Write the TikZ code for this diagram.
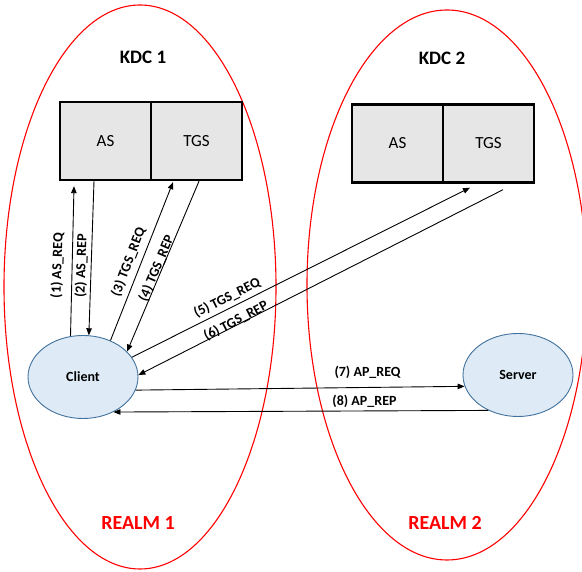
\documentclass[tikz,border=0pt]{standalone}
\usepackage{fontspec}
\setmainfont{Carlito}
\usetikzlibrary{arrows.meta,shapes.geometric}
\definecolor{realmred}{RGB}{255,0,0}
\definecolor{boxgray}{RGB}{230,230,230}
\definecolor{hostfill}{RGB}{222,235,247}
\definecolor{hostline}{RGB}{65,113,156}
\tikzset{
	kdcbox/.style={draw, line width=2.4pt, fill=boxgray, minimum width=91pt, minimum height=78pt, font=\fontsize{17}{20}\selectfont},
	host/.style={ellipse, draw=hostline, line width=0.9pt, fill=hostfill, minimum width=110pt, minimum height=83pt, font=\bfseries\fontsize{14}{16}\selectfont},
	msg/.style={-{Triangle[length=7pt,width=5.5pt]}, line width=0.9pt},
	lbl/.style={font=\bfseries\fontsize{14}{16}\selectfont, inner sep=1pt},
	realm/.style={draw=realmred, line width=1.1pt},
	title/.style={font=\bfseries\fontsize{19}{22}\selectfont}
}
\begin{document}
\begin{tikzpicture}[x=1pt,y=1pt]
	
	\useasboundingbox (0,0) rectangle (582,572);
	\draw[realm] (140,285) ellipse [x radius=136pt, y radius=282pt];
	\draw[realm] (447,287) ellipse [x radius=140pt, y radius=275pt];
	\node[title] (kdc1) at (143,515) {KDC 1};
	\node[title] (kdc2) at (442,514) {KDC 2};
	\node[kdcbox] (as1) at (105.5,431) {AS};
	\node[kdcbox] (tgs1) at (196.5,431) {TGS};
	\node[kdcbox] (as2) at (397.5,428.5) {AS};
	\node[kdcbox] (tgs2) at (488.5,428.5) {TGS};
	\node[host] (client) at (83,195) {Client};
	\node[host] (server) at (518,197) {Server};
	\node[title, text=realmred, font=\bfseries\fontsize{20}{24}\selectfont] (realm1) at (138,49) {REALM 1};
	\node[title, text=realmred, font=\bfseries\fontsize{20}{24}\selectfont] (realm2) at (445,49) {REALM 2};
	
	\draw[msg] (client.107) -- ([xshift=-31.5,yshift=-5]as1.south);
	\draw[msg] ([xshift=-11.5]as1.south) -- (client.82);
	\draw[msg] (client.53) -- ([xshift=-23.5,yshift=-1]tgs1.south);
	\draw[msg] ([xshift=2.5]tgs1.south) -- (client.30);
	\draw[msg] (client.22) -- ([xshift=-18.5,yshift=-4]tgs2.south);
	\draw[msg] ([xshift=14.5,yshift=-6]tgs2.south) -- (client.2);
	\draw[msg] (client.-14) -- (server.192);
	\draw[msg] (server.230) -- (client.-49);
	
	\node[lbl, rotate=88] (l1) at (57.5,306.5) {(1) AS\_REQ};
	\node[lbl, rotate=88] (l2) at (81.5,306) {(2) AS\_REP};
	\node[lbl, rotate=69] (l3) at (128.5,310) {(3) TGS\_REQ};
	\node[lbl, rotate=67] (l4) at (156.5,303.5) {(4) TGS\_REP};
	\node[lbl, rotate=26.6] (l5) at (227,274) {(5) TGS\_REQ};
	\node[lbl, rotate=27.4] (l6) at (236,251) {(6) TGS\_REP};
	\node[lbl] (l7) at (367.5,200) {(7) AP\_REQ};
	\node[lbl] (l8) at (364.5,171) {(8) AP\_REP};
\end{tikzpicture}
\end{document}
